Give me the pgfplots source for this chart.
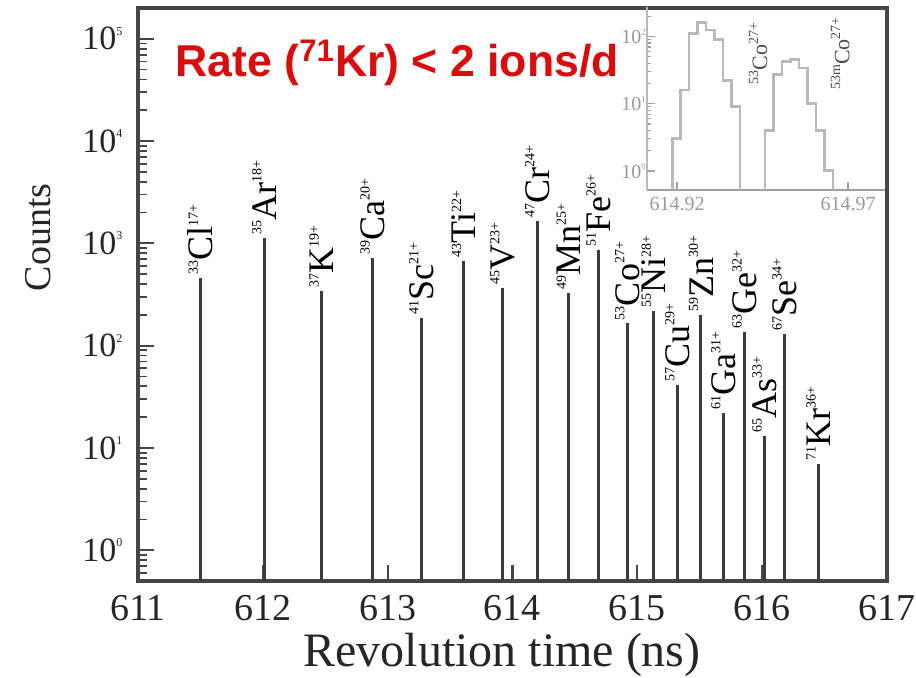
\documentclass[border=0pt]{standalone}
\usepackage{fontspec}
\setmainfont{Liberation Serif}
\newfontfamily\titlefont{Liberation Sans}
\usepackage{pgfplots}
\usepackage{pgfplotstable}
\pgfplotsset{compat=1.18}

\definecolor{framegray}{RGB}{70,70,70}
\definecolor{spikegray}{RGB}{60,60,60}
\definecolor{insetgray}{RGB}{185,185,185}
\definecolor{insetframe}{RGB}{160,160,160}
\definecolor{ratered}{RGB}{218,12,12}

% nuclide label: mass number, element, charge state
\NewDocumentCommand\iso{mmm}{\raisebox{0.9ex}{\fontsize{7}{7}\selectfont #1}#2\raisebox{0.9ex}{\fontsize{7}{7}\selectfont #3}}
% decade tick label
\NewDocumentCommand\dec{m}{10\raisebox{0.95ex}{\fontsize{6}{6}\selectfont #1}}
\NewDocumentCommand\sdec{m}{10\raisebox{0.95ex}{\fontsize{4.5}{4.5}\selectfont #1}}

% revolution time (ns), counts in the peak bin, nuclide
\pgfplotstableread{
t      n     label
611.50 455   \iso{33}{Cl}{17+}
612.01 1140  \iso{35}{Ar}{18+}
612.47 345   \iso{37}{K}{19+}
612.88 725   \iso{39}{Ca}{20+}
613.27 185   \iso{41}{Sc}{21+}
613.61 675   \iso{43}{Ti}{22+}
613.92 370   \iso{45}{V}{23+}
614.20 1660  \iso{47}{Cr}{24+}
614.45 325   \iso{49}{Mn}{25+}
614.69 855   \iso{51}{Fe}{26+}
614.92 165   \iso{53}{Co}{27+}
615.13 220   \iso{55}{Ni}{28+}
615.32 41    \iso{57}{Cu}{29+}
615.51 200   \iso{59}{Zn}{30+}
615.69 22    \iso{61}{Ga}{31+}
615.86 135   \iso{63}{Ge}{32+}
616.02 13    \iso{65}{As}{33+}
616.18 130   \iso{67}{Se}{34+}
616.45 7     \iso{71}{Kr}{36+}
}\peaks

\begin{document}
\begin{tikzpicture}
\begin{axis}[
  name=main, at={(0,0)}, anchor=south west,
  scale only axis, width=374.5pt, height=286.5pt,
  xmin=611, xmax=617,
  ymode=log, ymin=0.5, ymax=2e5,
  log origin y=infty,
  xtick={611,612,...,617},
  ytick={1,10,100,1000,10000,100000},
  ymajorticks=true, yminorticks=true,
  minor ytick={0.6,0.7,0.8,0.9,2,3,4,5,6,7,8,9,20,30,40,50,60,70,80,90,
    200,300,400,500,600,700,800,900,2000,3000,4000,5000,6000,7000,8000,9000,
    2e4,3e4,4e4,5e4,6e4,7e4,8e4,9e4},
  yticklabels={\dec{0},\dec{1},\dec{2},\dec{3},\dec{4},\dec{5}},
  extra y ticks={1,10,100,1000,10000,100000},
  extra y tick labels={},
  extra y tick style={ytick pos=left, ytick align=inside,
    major tick length=8pt, tick style={draw=framegray, line width=1.1pt}},
  xtick pos=bottom, ytick pos=left,
  xtick align=inside, ytick align=inside,
  major tick length=8pt, minor tick length=4.5pt,
  axis line style={framegray, line width=2pt},
  xtick style={draw=framegray, line width=1.1pt},
  ytick style={draw=framegray, line width=1.1pt},
  minor y tick style={draw=framegray, line width=0.9pt},
  /pgf/number format/assume math mode=true,
  xticklabel style={font=\fontsize{19}{19}\selectfont, yshift=-3.5pt, text=black!85},
  yticklabel style={font=\fontsize{17}{17}\selectfont, xshift=-4.3pt, text=black!85},
  xlabel={Revolution time (ns)}, ylabel={Counts},
  xlabel style={at={(axis description cs:0.486,-0.129)}, anchor=center,
    font=\fontsize{24}{24}\selectfont, text=black!85},
  ylabel style={at={(axis description cs:-0.1335,0.6)}, anchor=center,
    font=\fontsize{19}{19}\selectfont, text=black!85},
]
% one comb line per nuclide
\addplot[ycomb, spikegray, line width=1.5pt] table[x=t, y=n] {\peaks};
% nuclide names above each line
\addplot[draw=none, point meta=explicit symbolic,
  nodes near coords,
  nodes near coords style={rotate=90, anchor=west, inner sep=1.5pt,
    font=\fontsize{18}{18}\selectfont, text=black}]
  table[x=t, y=n, meta=label] {\peaks};
\node[anchor=base west, text=ratered, inner sep=0pt,
  font=\titlefont\bfseries\fontsize{22.3}{22.3}\selectfont]
  at (rel axis cs:0.0494,0.8796) {Rate (\textsuperscript{71}Kr) < 2 ions/d};
\end{axis}

% inset: Co doublet; x is the revolution time relative to 614.9 ns, in ps
\begin{axis}[
  at={(254.5pt,195.5pt)}, anchor=south west,
  scale only axis, width=119pt, height=91.5pt,
  xmin=11.2, xmax=80.8,
  ymode=log, ymin=0.519, ymax=275,
  axis x line*=bottom, axis y line*=left,
  xtick align=inside, ytick align=inside,
  xtick={20,70}, xticklabels={614.92,614.97},
  ytick={1,10,100}, yticklabels={\sdec{0},\sdec{1},\sdec{2}},
  yminorticks=true,
  minor ytick={2,3,4,5,6,7,8,9,20,30,40,50,60,70,80,90,200},
  major tick length=4pt, minor tick length=2pt,
  x axis line style={insetframe, line width=1.4pt},
  y axis line style={insetgray, line width=1.2pt},
  xtick style={draw=insetframe, line width=0.8pt},
  ytick style={draw=insetframe, line width=0.8pt},
  minor y tick style={draw=insetframe, line width=0.6pt},
  xticklabel style={font=\fontsize{10}{10}\selectfont, text=black!40},
  yticklabel style={font=\fontsize{10}{10}\selectfont, text=black!40, xshift=3pt},
]
\addplot[const plot, insetgray, line width=1.4pt] coordinates {
  (18.54,0.519) (18.54,3) (21.02,16) (23.51,110) (25.99,160)
  (28.48,125) (30.96,90) (33.45,22) (35.94,9) (38.42,0.519)};
\addplot[const plot, insetgray, line width=1.4pt] coordinates {
  (45.73,0.519) (45.73,4) (48.22,27) (50.70,42) (53.19,45)
  (55.67,34) (58.16,10) (60.64,4) (63.13,1) (65.61,0.519)};
\node[rotate=90, anchor=west, inner sep=0pt, text=black!70,
  font=\fontsize{11}{11}\selectfont] at (axis cs:43.7,19) {\iso{53}{Co}{27+}};
\node[rotate=90, anchor=west, inner sep=0pt, text=black!70,
  font=\fontsize{11}{11}\selectfont] at (axis cs:67.7,16) {\iso{53m}{Co}{27+}};
\end{axis}

\pgfresetboundingbox
\path[use as bounding box] (-69pt,-48pt) rectangle (389pt,290.5pt);
\end{tikzpicture}
\end{document}
